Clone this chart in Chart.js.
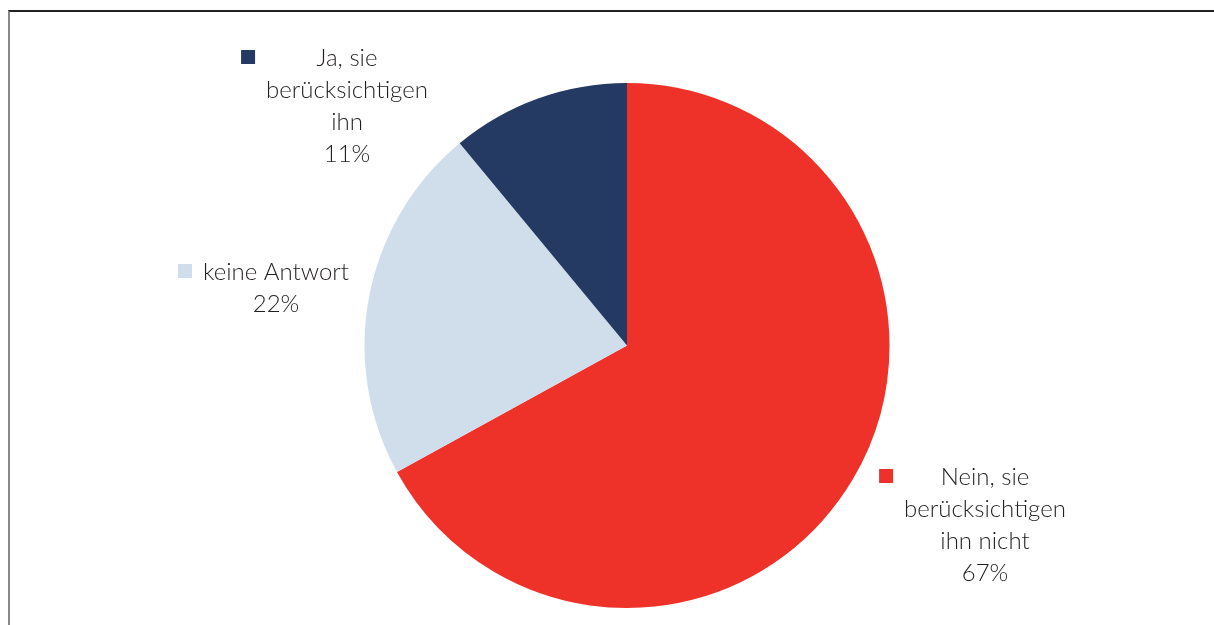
<!DOCTYPE html>
<html>
<head>
<meta charset="utf-8">
<script src="https://cdn.jsdelivr.net/npm/chart.js@4.4.1/dist/chart.umd.min.js"></script>
<style>
  html, body { margin: 0; padding: 0; background: #fff; }
  #wrap { position: relative; width: 1214px; height: 625px; }
  #frame {
    position: absolute; left: 8px; top: 10px; right: -2px; bottom: -2px;
    border-top: 2px solid #222; border-left: 2px solid #888;
  }
  canvas { position: absolute; left: 0; top: 0; }
</style>
</head>
<body>
<div id="wrap">
  <div id="frame"></div>
  <canvas id="myChart" width="1214" height="625"></canvas>
</div>
<script>
(() => {
  'use strict'

  // data
  var labels = ['Nein, sie berücksichtigen ihn nicht', 'keine Antwort', 'Ja, sie berücksichtigen ihn']
  var label_lines = [
    ['Nein, sie', 'berücksichtigen', 'ihn nicht'],
    ['keine Antwort'],
    ['Ja, sie', 'berücksichtigen', 'ihn']
  ]
  var values = [67, 22, 11]
  var colors = ['#ee3229', '#d0deec', '#243a63']

  // where the data labels sit (centre x, first line y)
  var label_pos = [
    { x: 985, y: 477 },
    { x: 276, y: 272 },
    { x: 347, y: 58 }
  ]

  var labelPlugin = {
    id: 'pieLabels',
    afterDraw(chart) {
      const c = chart.ctx
      const ds = chart.data.datasets[0]
      c.save()
      c.font = '300 24px Lato'
      c.fillStyle = '#231f20'
      c.textAlign = 'center'
      c.textBaseline = 'middle'
      const lh = 32
      ds.data.forEach((v, i) => {
        const lines = label_lines[i].concat([v + '%'])
        const p = label_pos[i]
        let maxw = 0
        lines.forEach((t, j) => {
          maxw = Math.max(maxw, c.measureText(t).width)
          c.fillText(t, p.x, p.y + j * lh)
        })
        // legend key
        c.fillStyle = ds.backgroundColor[i]
        c.fillRect(p.x - maxw / 2 - 25, p.y - 8, 14, 14)
        c.fillStyle = '#231f20'
      })
      c.restore()
    }
  }

  const ctx = document.getElementById('myChart')
  // eslint-disable-next-line no-unused-vars
  const myChart = new Chart(ctx, {
    type: 'pie',
    data: {
      labels: labels,
      datasets: [{
        data: values,
        backgroundColor: colors,
        borderWidth: 0
      }]
    },
    options: {
      responsive: false,
      animation: false,
      layout: {
        padding: { top: 83, bottom: 17, left: 40, right: 0 }
      },
      plugins: {
        legend: { display: false },
        tooltip: { enabled: false }
      }
    },
    plugins: [labelPlugin]
  })
})()
</script>
</body>
</html>
